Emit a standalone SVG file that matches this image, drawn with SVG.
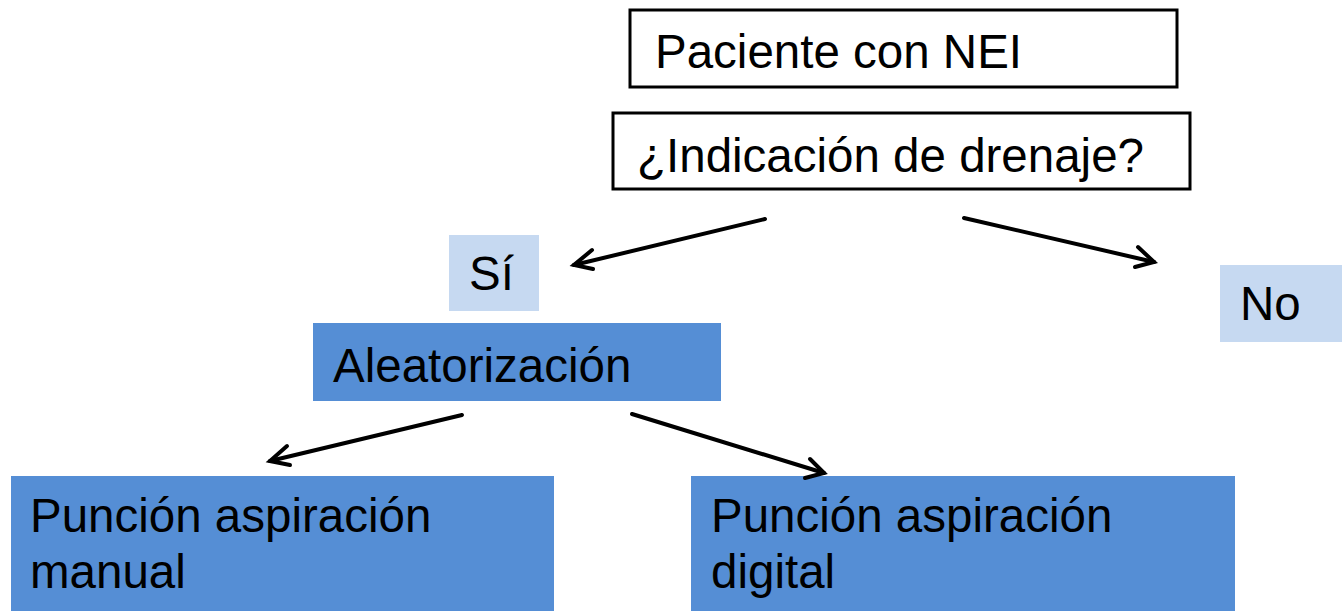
<svg xmlns="http://www.w3.org/2000/svg" width="1342" height="611" viewBox="0 0 1342 611">
<defs>
<style>
text{font-family:"Liberation Sans",Arial,sans-serif;font-size:47.5px;fill:#000}
.outline{fill:#fff;stroke:#000;stroke-width:3}
.light{fill:#c6d9f1}
.dark{fill:#558ed5}
.conn{stroke:#000;stroke-width:4;fill:none;stroke-linecap:round}
.head{stroke:#000;stroke-width:4;fill:none;stroke-linecap:round;stroke-linejoin:miter}
</style>
</defs>
<rect width="1342" height="611" fill="#fff"/>
<g id="paciente"><rect class="outline" x="630" y="10" width="547" height="77"/><text x="655" y="68">Paciente con NEI</text></g>
<g id="indicacion"><rect class="outline" x="613" y="113" width="577" height="76"/><text x="637" y="172">¿Indicación de drenaje?</text></g>
<g id="si"><rect class="light" x="449" y="235" width="90" height="76"/><text x="469" y="290">Sí</text></g>
<g id="no"><rect class="light" x="1220" y="265" width="122" height="77"/><text x="1240" y="320">No</text></g>
<g id="aleatorizacion"><rect class="dark" x="313" y="323" width="408" height="78"/><text x="333" y="382">Aleatorización</text></g>
<g id="manual"><rect class="dark" x="11" y="476" width="543" height="135"/><text x="30" y="532">Punción aspiración</text><text x="30" y="588">manual</text></g>
<g id="digital"><rect class="dark" x="691" y="476" width="544" height="135"/><text x="711" y="532">Punción aspiración</text><text x="711" y="588">digital</text></g>
<g id="connectors">
<line class="conn" x1="765" y1="219" x2="574" y2="265"/>
<polyline class="head" points="592,250 574,265 593,269"/>
<line class="conn" x1="964" y1="218" x2="1154" y2="262"/>
<polyline class="head" points="1138,247 1154,262 1135,267"/>
<line class="conn" x1="462" y1="415" x2="270" y2="461"/>
<polyline class="head" points="287,446 270,461 290,465"/>
<line class="conn" x1="632" y1="414" x2="824" y2="473"/>
<polyline class="head" points="810,459 824,473 805,478"/>
</g>
</svg>
